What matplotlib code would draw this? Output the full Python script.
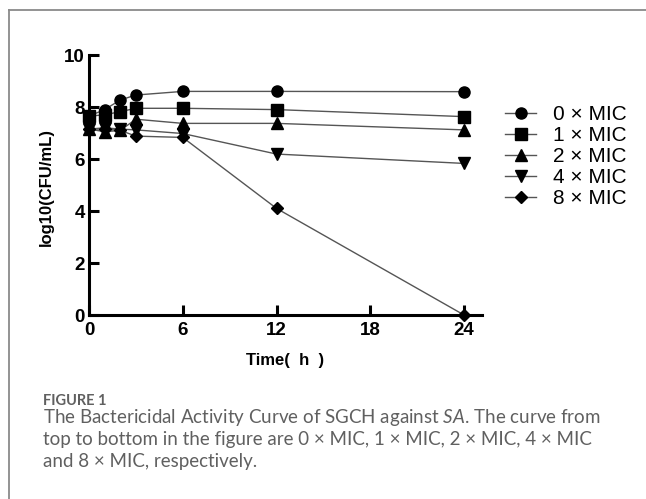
import numpy as np
import matplotlib
matplotlib.use("Agg")
import matplotlib.pyplot as plt
from matplotlib.lines import Line2D

# sampling times (h) and log10(CFU/mL) for each concentration
times = [0, 1, 2, 3, 6, 12, 24]
mic_0 = [7.65, 7.90, 8.27, 8.46, 8.60, 8.60, 8.59]
mic_1 = [7.65, 7.70, 7.82, 7.95, 7.95, 7.90, 7.63]
mic_2 = [7.15, 7.05, 7.10, 7.53, 7.37, 7.37, 7.12]
mic_4 = [7.15, 7.20, 7.15, 7.12, 6.98, 6.19, 5.83]
mic_8 = [7.15, 7.15, 7.10, 6.88, 6.83, 4.10, 0.00]

series = [mic_0, mic_1, mic_2, mic_4, mic_8]
labels = ["0 × MIC", "1 × MIC", "2 × MIC", "4 × MIC", "8 × MIC"]
markers = ["o", "s", "^", "v", "D"]
msizes = [8, 8, 8, 8, 6]

xticks = [0, 6, 12, 18, 24]
yticks = [0, 2, 4, 6, 8, 10]

plt.rcParams['font.family'] = ['Liberation Sans', 'DejaVu Sans']
plt.rcParams['mathtext.fontset'] = 'custom'
plt.rcParams['mathtext.rm'] = 'Lato'
plt.rcParams['mathtext.it'] = 'Lato:italic'

W, H = 646, 499
fig = plt.figure(figsize=(W / 100, H / 100), dpi=100)

def fx(px):
    return px / W

def fy(py):
    return 1 - py / H

# axes box: x=0 at px 89, y=10 at px 55, y=0 at px 315, x-axis ends at px 482
ax = fig.add_axes([fx(89), fy(315), fx(482 - 89), (315 - 55) / H])

for vals, lab, m, ms in zip(series, labels, markers, msizes):
    ax.plot(times, vals, color="#555555", lw=1.0, marker=m, ms=ms,
            mfc="black", mec="black", label=lab, clip_on=False, zorder=3)

ax.set_xlim(0, 25.15)
ax.set_ylim(0, 10)
ax.set_xticks(xticks)
ax.set_yticks(yticks)
for s in ["top", "right"]:
    ax.spines[s].set_visible(False)
for s in ["left", "bottom"]:
    ax.spines[s].set_linewidth(2.2)
ax.tick_params(direction="in", length=7, width=2.2, labelsize=13.5)
ax.tick_params(axis="x", pad=5)
ax.tick_params(axis="y", pad=3)
for t in ax.get_xticklabels() + ax.get_yticklabels():
    t.set_fontweight("bold")

ax.set_xlabel("Time(  h  )", fontsize=12, fontweight="bold", labelpad=10)
ax.set_ylabel("log10(CFU/mL)", fontsize=12, fontweight="bold")
ax.yaxis.set_label_coords(fx(54), fy(187), transform=fig.transFigure)

ax.legend(loc="upper left", bbox_to_anchor=(fx(505), fy(105)),
          bbox_transform=fig.transFigure, frameon=False, fontsize=15,
          handlelength=1.5, handletextpad=0.8, labelspacing=0.1,
          borderpad=0, borderaxespad=0)

# frame lines of the page box
fig.add_artist(Line2D([fx(9), 1], [fy(10), fy(10)], color="#8a8a8a", lw=1.3))
fig.add_artist(Line2D([fx(9), fx(9)], [fy(10), 0], color="#8a8a8a", lw=1.3))

cap_color = "#606060"
fig.text(fx(43), fy(405), "FIGURE 1", family="Lato", fontweight="bold",
         fontsize=10.5, color=cap_color, va="baseline")
caption = [
    r"The Bactericidal Activity Curve of SGCH against $\mathit{SA}$. The curve from",
    "top to bottom in the figure are 0 × MIC, 1 × MIC, 2 × MIC, 4 × MIC",
    "and 8 × MIC, respectively.",
]
for i, line in enumerate(caption):
    fig.text(fx(43), fy(423 + 22 * i), line, family="Lato", fontsize=13.5,
             color=cap_color, va="baseline")

fig.savefig("out.png", dpi=100)
